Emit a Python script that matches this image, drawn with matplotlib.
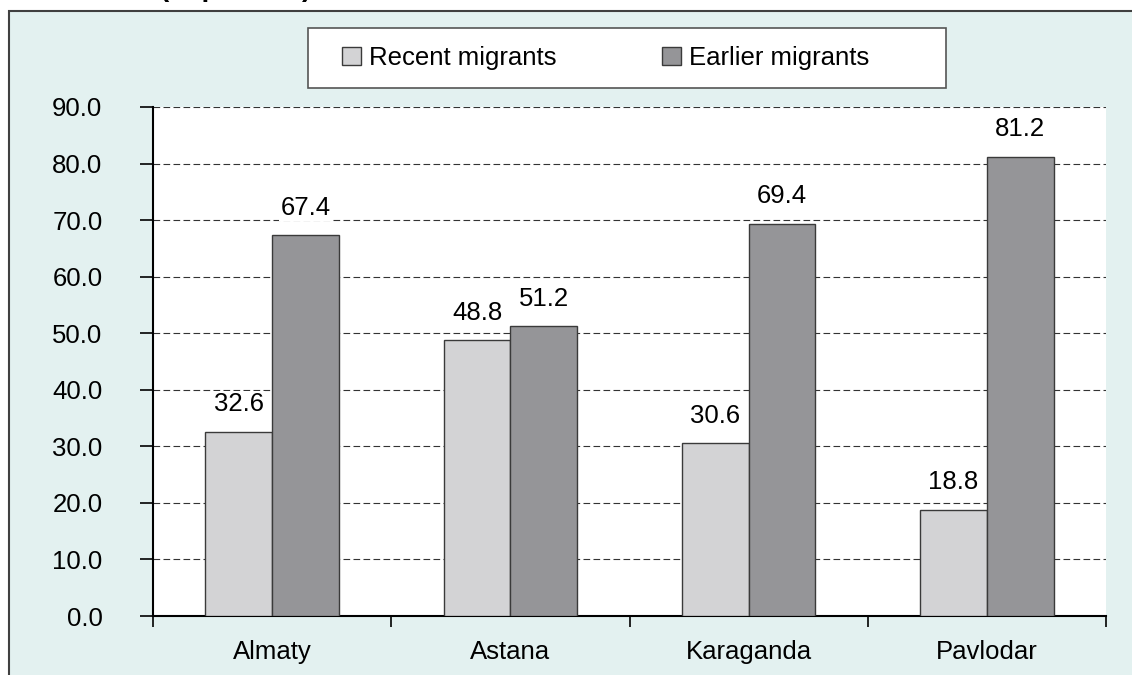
import numpy as np
import matplotlib
matplotlib.use('Agg')
import matplotlib.pyplot as plt
from matplotlib.patches import Rectangle

plt.rcParams['font.family'] = ['Liberation Sans', 'DejaVu Sans']

# data
cities = ['Almaty', 'Astana', 'Karaganda', 'Pavlodar']
recent = [32.6, 48.8, 30.6, 18.8]
earlier = [67.4, 51.2, 69.4, 81.2]
series_names = ['Recent migrants', 'Earlier migrants']
yticks = [0, 10, 20, 30, 40, 50, 60, 70, 80, 90]

bg = '#e3f1f0'
c_recent = '#d3d3d5'
c_earlier = '#959598'
edge = '#3a3a3a'
fs = 18.5

W, H = 1132, 675
fig = plt.figure(figsize=(W / 100, H / 100), dpi=100)
fig.patch.set_facecolor('white')

# outer frame
fig.patches.append(Rectangle((9 / W, -0.05), 1.1, 1 - 11 / H + 0.05,
                             transform=fig.transFigure, facecolor=bg,
                             edgecolor='#404040', linewidth=1.5, zorder=-10))

# legend box
fig.patches.append(Rectangle((308 / W, 1 - 88 / H), 638 / W, 60 / H,
                             transform=fig.transFigure, facecolor='white',
                             edgecolor='#555555', linewidth=1.2, zorder=-5))

# cut-off title at top
fig.text(160 / W, 1 + 4.5 / H, '(in percent)', fontsize=20, fontweight='bold',
         va='baseline', ha='left')

ax = fig.add_axes([153 / W, 1 - 616 / H, (1106 - 153) / W, (616 - 107) / H])
ax.set_facecolor('white')

x = np.arange(len(cities)) + 0.5
w = 0.28
b1 = ax.bar(x - w / 2, recent, w, color=c_recent, edgecolor=edge, linewidth=1.0,
            label=series_names[0], zorder=3)
b2 = ax.bar(x + w / 2, earlier, w, color=c_earlier, edgecolor=edge, linewidth=1.0,
            label=series_names[1], zorder=3)

for bars, vals in [(b1, recent), (b2, earlier)]:
    for rect, v in zip(bars, vals):
        ax.annotate(f'{v:.1f}', (rect.get_x() + rect.get_width() / 2, v),
                    xytext=(0, 11), textcoords='offset points',
                    ha='center', va='bottom', fontsize=fs,
                    bbox=dict(facecolor='white', edgecolor='none', pad=1.0),
                    zorder=4)

ax.set_xlim(0, len(cities))
ax.set_ylim(0, 90)
ax.set_yticks(yticks)
ax.set_yticklabels([f'{t:.1f}' for t in yticks])
ax.yaxis.grid(True, linestyle=(0, (6, 3)), color='#333333', linewidth=0.8, zorder=1)

ax.set_xticks(np.arange(len(cities) + 1))
ax.set_xticklabels([])
ax.set_xticks(x, minor=True)
ax.set_xticklabels(cities, minor=True)
ax.tick_params(axis='x', which='minor', length=0, pad=17, labelsize=fs)
ax.tick_params(axis='x', which='major', length=8, width=1.2, direction='out')
ax.tick_params(axis='y', length=9.4, width=1.2, pad=27, labelsize=fs)

for s in ['top', 'right']:
    ax.spines[s].set_visible(False)
ax.spines['left'].set_linewidth(1.5)
ax.spines['bottom'].set_linewidth(1.5)

fig.legend(handles=[b1, b2], labels=series_names, ncol=2,
           loc='center left', bbox_to_anchor=(342 / W, 1 - 58 / H),
           borderaxespad=0, borderpad=0, frameon=False, fontsize=fs,
           handlelength=0.75, handleheight=0.75, handletextpad=0.3,
           columnspacing=4.1)

fig.savefig('out.png', dpi=100)
